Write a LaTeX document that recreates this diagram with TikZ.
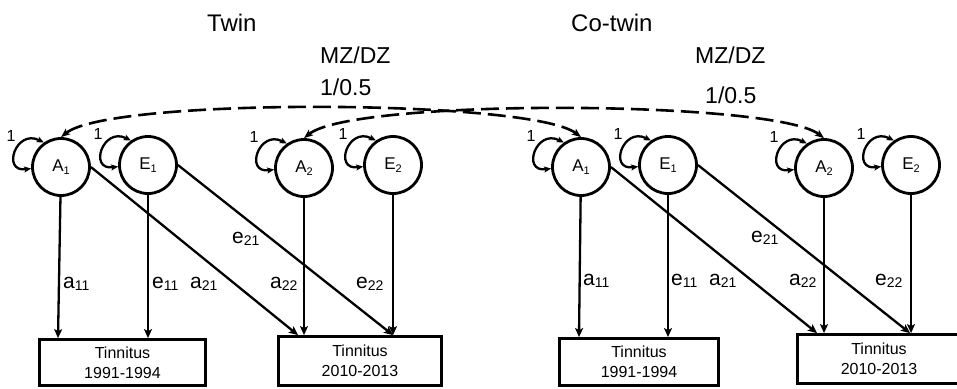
\documentclass[tikz,border=0pt]{standalone}
\usepackage{fontspec}
\setmainfont{Liberation Sans}
\usetikzlibrary{arrows.meta}
\newcommand{\edgelbl}[2]{{\fontsize{21}{21}\selectfont #1}{\fontsize{14}{14}\selectfont\raisebox{-2.5pt}{#2}}}
\newcommand{\latlbl}[2]{{\fontsize{17}{17}\selectfont #1}{\fontsize{11}{11}\selectfont\raisebox{-3pt}{#2}}}
\newcommand{\selfloop}[1]{%
  \draw[varloop] (#1.183) .. controls +(-30,4) and +(-28,-14) .. (#1.125);
  \node[onelbl] (#1one) at ([shift={(-50,-31)}]#1) {1};}
\begin{document}
\begin{tikzpicture}[x=1pt,y=-1pt,
  latent/.style={circle,draw,line width=2.8pt,minimum size=57pt,inner sep=0pt},
  obsbox/.style={draw,line width=2.8pt,inner sep=0pt,align=center,font=\fontsize{16}{20}\selectfont},
  patharrow/.style={line width=2.3pt,-{Stealth[length=9pt,width=8pt,inset=2pt]}},
  varloop/.style={line width=2.3pt,{Stealth[length=7pt,width=6pt,inset=1.5pt]}-{Stealth[length=7pt,width=6pt,inset=1.5pt]}},
  covarc/.style={line width=2.6pt,dash pattern=on 18pt off 7pt,{Stealth[length=9pt,width=7pt,inset=2pt]}-{Stealth[length=9pt,width=7pt,inset=2pt]}},
  txt/.style={anchor=base west,inner sep=0pt},
  onelbl/.style={inner sep=0pt,font=\fontsize{16}{16}\selectfont},
  title/.style={anchor=base west,inner sep=0pt,font=\fontsize{24}{24}\selectfont},
  corr/.style={anchor=base west,inner sep=0pt,font=\fontsize{23}{23}\selectfont},
]
\useasboundingbox (0,0) rectangle (957,388);
\clip (0,0) rectangle (957,388);

% titles
\node[title] (twin) at (207,31) {Twin};
\node[title] (cotwin) at (571,31) {Co-twin};
\node[corr] (mzdzL) at (320,63) {MZ/DZ};
\node[corr] (rL) at (320,95) {1/0.5};
\node[corr] (mzdzR) at (695,63) {MZ/DZ};
\node[corr] (rR) at (705,103) {1/0.5};

% latent factors
\node[latent] (A1) at (61,167) {\latlbl{A}{1}};
\node[latent] (E1) at (148,165) {\latlbl{E}{1}};
\node[latent] (A2) at (304,168) {\latlbl{A}{2}};
\node[latent] (E2) at (393,165) {\latlbl{E}{2}};
\node[latent] (A1c) at (581,167) {\latlbl{A}{1}};
\node[latent] (E1c) at (668,165) {\latlbl{E}{1}};
\node[latent] (A2c) at (824,168) {\latlbl{A}{2}};
\node[latent] (E2c) at (911,165) {\latlbl{E}{2}};

% observed
\node[obsbox,minimum width=166pt,minimum height=46pt] (T1) at (122.5,362.5) {Tinnitus\\1991-1994};
\node[obsbox,minimum width=163pt,minimum height=49pt] (T2) at (360,361) {Tinnitus\\2010-2013};
\node[obsbox,minimum width=159pt,minimum height=47pt] (T1c) at (639,362) {Tinnitus\\1991-1994};
\node[obsbox,minimum width=163pt,minimum height=49pt] (T2c) at (879,359) {Tinnitus\\2010-2013};

% variance loops
\selfloop{A1}\selfloop{E1}\selfloop{A2}\selfloop{E2}
\selfloop{A1c}\selfloop{E1c}\selfloop{A2c}\selfloop{E2c}

% covariance arcs
\draw[covarc] (A1.north) .. controls +(50,-40) and +(-50,-38) .. (A1c.north);
\draw[covarc] (A2.north) .. controls +(50,-40) and +(-50,-38) .. (A2c.north);

% paths twin
\draw[patharrow] (A1) -- ([xshift=-3pt]A1 |- T1.north);
\draw[patharrow] (E1) -- (E1 |- T1.north);
\draw[patharrow] (A2) -- (A2 |- T2.north);
\draw[patharrow] (E2) -- (E2 |- T2.north);
\draw[patharrow] (A1.east) -- ([xshift=-6pt]A2 |- T2.north);
\draw[patharrow] (E1.east) -- (E2 |- T2.north);

% paths co-twin
\draw[patharrow] (A1c) -- ([xshift=-2pt]A1c |- T1c.north);
\draw[patharrow] (E1c) -- (E1c |- T1c.north);
\draw[patharrow] (A2c) -- (A2c |- T2c.north);
\draw[patharrow] (E2c) -- (E2c |- T2c.north);
\draw[patharrow] (A1c.east) -- ([xshift=-7pt]A2c |- T2c.north);
\draw[patharrow] (E1c.east) -- ([xshift=-1pt]E2c |- T2c.north);

% path labels twin
\node[txt] (la11) at (63,288) {\edgelbl{a}{11}};
\node[txt] (le11) at (152,288) {\edgelbl{e}{11}};
\node[txt] (la21) at (190,288) {\edgelbl{a}{21}};
\node[txt] (le21) at (232,243) {\edgelbl{e}{21}};
\node[txt] (la22) at (270,288) {\edgelbl{a}{22}};
\node[txt] (le22) at (356,288) {\edgelbl{e}{22}};

% path labels co-twin
\node[txt] (ca11) at (583,285) {\edgelbl{a}{11}};
\node[txt] (ce11) at (671,285) {\edgelbl{e}{11}};
\node[txt] (ca21) at (709,285) {\edgelbl{a}{21}};
\node[txt] (ce21) at (751,242) {\edgelbl{e}{21}};
\node[txt] (ca22) at (789,285) {\edgelbl{a}{22}};
\node[txt] (ce22) at (875,285) {\edgelbl{e}{22}};
\end{tikzpicture}
\end{document}
